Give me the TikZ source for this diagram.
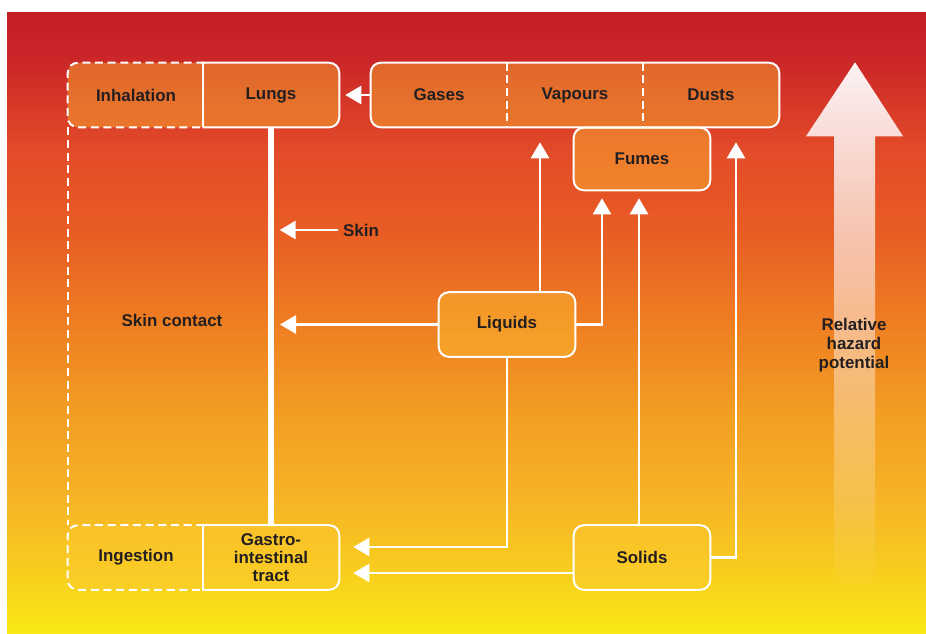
\documentclass[tikz,border=0pt]{standalone}
\usepackage{fontspec}
\setmainfont{Liberation Sans}
\usetikzlibrary{arrows.meta,fadings}

% background gradient stops, bottom (yellow) to top (dark red)
\definecolor{bgA}{RGB}{248,232,20}
\definecolor{bgB}{RGB}{248,205,30}
\definecolor{bgC}{RGB}{246,180,38}
\definecolor{bgD}{RGB}{243,160,35}
\definecolor{bgE}{RGB}{238,125,34}
\definecolor{bgF}{RGB}{232,92,36}
\definecolor{bgG}{RGB}{226,75,40}
\definecolor{bgH}{RGB}{203,38,40}
\definecolor{bgI}{RGB}{196,30,38}
\definecolor{boxtint}{RGB}{255,200,50}
\definecolor{ink}{RGB}{35,31,32}

\pgfdeclareverticalshading{hazardbg}{100bp}{%
  color(0bp)=(bgA); color(25bp)=(bgA); color(30.07bp)=(bgB);
  color(35.71bp)=(bgC); color(42.15bp)=(bgD); color(50.2bp)=(bgE);
  color(57.45bp)=(bgF); color(63.89bp)=(bgG); color(71.14bp)=(bgH);
  color(75bp)=(bgI); color(100bp)=(bgI)}

\tikzfading[name=hazardfade, top color=transparent!5,
  middle color=transparent!45, bottom color=transparent!100]

\pgfdeclarelayer{bg}
\pgfsetlayers{bg,main}

\begin{document}
\begin{tikzpicture}[x=0.75pt,y=-0.75pt,
  txt/.style={font=\fontsize{12.7}{15}\selectfont\bfseries, text=ink},
  cell/.style={txt, minimum width=102pt, minimum height=48pt, inner sep=0pt},
  boxfill/.style={fill=boxtint, fill opacity=0.4, rounded corners=7.5pt},
  boxline/.style={draw=white, line width=1.5pt, rounded corners=7.5pt},
  dashline/.style={draw=white, line width=1.5pt, dash pattern=on 6pt off 3.5pt, rounded corners=7.5pt},
  conn/.style={draw=white, line width=2pt, -{Triangle[width=13.5pt,length=12pt]}},
  spine/.style={draw=white, line width=4.5pt}]

\useasboundingbox (0,0) rectangle (926,633);

% boxes and labels
\node[cell] (inh) at (136,95) {Inhalation};
\node[cell] (lungs) at (271,95) {Lungs};
\node[cell] (gases) at (439,95) {Gases};
\node[cell] (vap) at (575,95) {Vapours};
\node[cell] (dusts) at (711,95) {Dusts};
\node[cell, minimum height=46.5pt] (fumes) at (642,159) {Fumes};
\node[cell] (liquids) at (507,324.5) {Liquids};
\node[cell] (solids) at (642,557.5) {Solids};
\node[cell] (ingest) at (136,557.5) {Ingestion};
\node[cell, align=center, font=\fontsize{12.7}{13.6}\selectfont\bfseries] (gi) at (271,557.5) {Gastro-\\intestinal\\tract};
\node[txt] (skinlbl) at (361,230) {Skin};
\node[txt] (contact) at (172,320) {Skin contact};
\node[txt, align=center, font=\fontsize{12.7}{14.3}\selectfont\bfseries] (hazard) at (854,345) {Relative\\hazard\\potential};

\begin{pgfonlayer}{bg}
  \fill[white] (0,0) rectangle (926,633);
  \shade[shading=hazardbg] (7,12) rectangle (926,633);
  % rising hazard arrow
  \fill[white, path fading=hazardfade]
    (834,592) -- (834,136) -- (806,136) -- (855,62) -- (903,136)
    -- (875,136) -- (875,592) -- cycle;
  % box tints
  \fill[boxfill] (inh.north west) rectangle (lungs.south east);
  \fill[boxfill] (ingest.north west) rectangle (gi.south east);
  \fill[boxfill] (gases.north west) rectangle (dusts.south east);
  \fill[boxfill] (fumes.north west) rectangle (fumes.south east);
  \fill[boxfill] (liquids.north west) rectangle (liquids.south east);
  \fill[boxfill] (solids.north west) rectangle (solids.south east);
\end{pgfonlayer}

% outlines of the route boxes
\draw[dashline] (inh.north east) -- (inh.north west) -- (inh.south west) -- (inh.south east);
\draw[boxline] (lungs.north west) -- (lungs.north east) -- (lungs.south east) -- (lungs.south west);
\draw[boxline, rounded corners=0pt] (lungs.north west) -- (lungs.south west);
\draw[dashline] (ingest.north east) -- (ingest.north west) -- (ingest.south west) -- (ingest.south east);
\draw[boxline] (gi.north west) -- (gi.north east) -- (gi.south east) -- (gi.south west);
\draw[boxline, rounded corners=0pt] (gi.north west) -- (gi.south west);
\draw[dashline, rounded corners=0pt] (inh.south west) -- (ingest.north west);

% outlines of the substance boxes
\draw[boxline] (gases.north west) rectangle (dusts.south east);
\draw[dashline, rounded corners=0pt] (vap.north west) -- (vap.south west);
\draw[dashline, rounded corners=0pt] (vap.north east) -- (vap.south east);
\draw[boxline] (fumes.north west) rectangle (fumes.south east);
\draw[boxline] (liquids.north west) rectangle (liquids.south east);
\draw[boxline] (solids.north west) rectangle (solids.south east);

% skin route
\draw[spine] (lungs.south) -- (gi.north);

% connectors
\coordinate (colV) at (540,0);
\coordinate (colF1) at (602,0);
\coordinate (colF2) at (639,0);
\coordinate (colD) at (736,0);
\coordinate (rowL) at (0,547);
\coordinate (rowS) at (0,573);

\draw[conn, shorten >=4.5pt] (gases.west) -- (lungs.east);
\draw[conn, shorten >=6.5pt] (skinlbl.west) -- (skinlbl.west -| lungs.south);
\draw[conn, shorten >=6.75pt] (liquids.west) -- (liquids.west -| lungs.south);
\draw[conn, shorten >=11.25pt] (liquids.north -| colV) -- (vap.south -| colV);
\draw[conn, shorten >=6pt] (liquids.east) -| (fumes.south -| colF1);
\draw[conn, shorten >=6pt] (solids.north -| colF2) -- (fumes.south -| colF2);
\draw[conn, shorten >=11.25pt] (solids.east) -| (dusts.south -| colD);
\draw[conn, shorten >=10.5pt] (liquids.south) |- (gi.east |- rowL);
\draw[conn, shorten >=10.5pt] (solids.west |- rowS) -- (gi.east |- rowS);
\end{tikzpicture}
\end{document}
